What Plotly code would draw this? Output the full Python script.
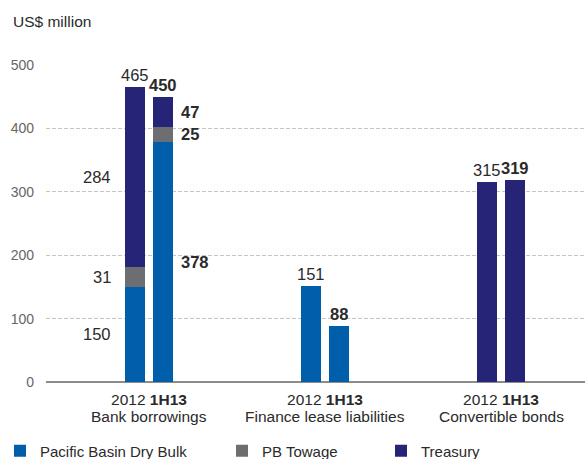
import plotly.graph_objects as go

# ---------------- data ----------------
categories = ["Bank borrowings", "Finance lease liabilities", "Convertible bonds"]
periods = ["2012", "1H13"]
series_names = ["Pacific Basin Dry Bulk", "PB Towage", "Treasury"]

# values per (category, period): order = Bank 2012, Bank 1H13, Lease 2012, Lease 1H13, CB 2012, CB 1H13
dry_bulk = [150, 378, 151, 88, None, None]
towage = [31, 25, None, None, None, None]
treasury = [284, 47, None, None, 315, 319]

y_ticks = [0, 100, 200, 300, 400, 500]
y_title = "US$ million"

# ---------------- style ----------------
colors = ["#005eaa", "#6d6e71", "#262477"]
FONT = "Arial, Liberation Sans, sans-serif"
TEXT = "#2a2a2a"
BAR_W = 0.114
BAR_GAP = 0.045

series_values = [dry_bulk, towage, treasury]
bar_keys = [(c, p) for c in range(len(categories)) for p in range(len(periods))]
x_pos = [c + (p - 0.5) * (BAR_W + BAR_GAP) for c, p in bar_keys]

fig = go.Figure()
legend_ids = ["legend", "legend2", "legend3"]
for name, vals, col, lg in zip(series_names, series_values, colors, legend_ids):
    fig.add_trace(go.Bar(
        x=x_pos, y=vals, name=name, marker=dict(color=col, line=dict(width=0)),
        width=BAR_W, legend=lg, hoverinfo="skip"))

# ---------------- value labels ----------------
annotations = []
for i, (c, p) in enumerate(bar_keys):
    segs = [s[i] for s in series_values]
    present = [v for v in segs if v]
    total = sum(present)
    bold = p == 1
    fmt = (lambda v: f"<b>{v}</b>") if bold else (lambda v: f"{v}")
    annotations.append(dict(
        x=x_pos[i], y=total, xref="x", yref="y", text=fmt(total), showarrow=False,
        xanchor="center", yanchor="bottom", yshift=1,
        font=dict(size=16.5, color=TEXT, family=FONT)))
    if len(present) > 1:
        base = 0
        for v in segs:
            if not v:
                continue
            annotations.append(dict(
                x=x_pos[i], y=base + v / 2, xref="x", yref="y", text=fmt(v),
                showarrow=False,
                xanchor="left" if bold else "right",
                xshift=16 if bold else -22,
                yanchor="middle",
                font=dict(size=16.5, color=TEXT, family=FONT)))
            base += v

# category names (second line under the period labels)
for ci, cname in enumerate(categories):
    annotations.append(dict(
        x=ci, y=-0.1104, xref="x", yref="paper", text=cname, showarrow=False,
        xanchor="center", yanchor="middle",
        font=dict(size=15.5, color=TEXT, family=FONT)))

annotations.append(dict(
    x=-0.065, y=1.136, xref="paper", yref="paper", text=y_title, showarrow=False,
    xanchor="left", yanchor="middle", font=dict(size=15.5, color=TEXT, family=FONT)))

ticktext = [f"{periods[0]} <b>{periods[1]}</b>" for _ in categories]

fig.update_layout(
    width=586, height=459,
    margin=dict(l=46, r=1, t=65, b=77),
    paper_bgcolor="white", plot_bgcolor="white",
    barmode="stack",
    showlegend=True,
    font=dict(family=FONT, color=TEXT),
    annotations=annotations,
    xaxis=dict(
        range=[-0.585, 2.477], tickvals=list(range(len(categories))), ticktext=ticktext,
        showgrid=False, zeroline=False, showline=False, ticks="",
        ticklabelstandoff=6,
        tickfont=dict(size=15.5, color=TEXT, family=FONT)),
    yaxis=dict(
        range=[0, 500], tickvals=y_ticks, showgrid=True, gridcolor="#c4c4c4",
        griddash="4px,2px", gridwidth=1,
        zeroline=True, zerolinecolor="#8c8c8c", zerolinewidth=1.5,
        showline=False, ticks="", ticklabelstandoff=11,
        tickfont=dict(size=14, color="#666666", family=FONT)),
)

legend_x = [0, 222, 381]
for lg, lx in zip(legend_ids, legend_x):
    fig.update_layout({lg: dict(
        orientation="h", xref="container", yref="container",
        x=lx / 586, xanchor="left",
        y=1 - 451 / 459, yanchor="middle",
        bgcolor="rgba(0,0,0,0)", borderwidth=0,
        font=dict(size=15, color=TEXT, family=FONT))})

fig.write_html(
    "out.html",
    config={"displayModeBar": False},
    post_script="document.body.style.margin='0';document.body.style.overflow='hidden';")
